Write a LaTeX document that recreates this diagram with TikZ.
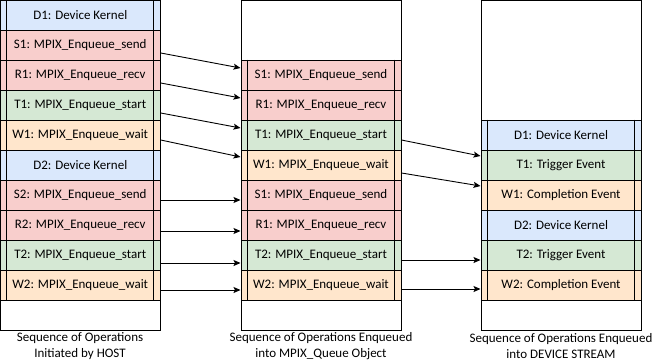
\documentclass[tikz,border=0pt]{standalone}
\usepackage{fontspec}
\setmainfont{Carlito}
\usetikzlibrary{arrows.meta,calc}
\definecolor{cblue}{HTML}{DAE8FC}
\definecolor{cred}{HTML}{F8CECC}
\definecolor{cgreen}{HTML}{D5E8D4}
\definecolor{corange}{HTML}{FFE6CC}
\tikzset{
  box/.style={draw=black,line width=1pt,fill=white},
  proc/.style={draw=black,line width=1pt,minimum width=160pt,minimum height=30pt,inner sep=0pt,
    font=\fontsize{13pt}{15pt}\selectfont,
    append after command={
      ([xshift=7pt]\tikzlastnode.north west) edge[line width=1pt] ([xshift=7pt]\tikzlastnode.south west)
      ([xshift=-7pt]\tikzlastnode.north east) edge[line width=1pt] ([xshift=-7pt]\tikzlastnode.south east)}},
  pb/.style={proc,fill=cblue},
  pr/.style={proc,fill=cred},
  pg/.style={proc,fill=cgreen},
  po/.style={proc,fill=corange},
  lab/.style={align=center,font=\fontsize{13pt}{15.5pt}\selectfont,inner sep=0pt},
  arr/.style={-{Stealth[length=7pt,width=6pt,inset=1.5pt]},line width=0.9pt},
}
\begin{document}
\begin{tikzpicture}[x=1pt,y=-1pt]
\useasboundingbox (0,0) rectangle (661,362);
% containers
\draw[box] (0.5,0.5) rectangle (160,330);
\draw[box] (241,0.5) rectangle (401,330);
\draw[box] (481,0.5) rectangle (641,330);
% left column
\node[pb] (LD1) at (80.25,15)  {D1: Device Kernel};
\node[pr] (LS1) at (80.25,45)  {S1: MPIX\_Enqueue\_send};
\node[pr] (LR1) at (80.25,75)  {R1: MPIX\_Enqueue\_recv};
\node[pg] (LT1) at (80.25,105) {T1: MPIX\_Enqueue\_start};
\node[po] (LW1) at (80.25,135) {W1: MPIX\_Enqueue\_wait};
\node[pb] (LD2) at (80.25,165) {D2: Device Kernel};
\node[pr] (LS2) at (80.25,195) {S2: MPIX\_Enqueue\_send};
\node[pr] (LR2) at (80.25,225) {R2: MPIX\_Enqueue\_recv};
\node[pg] (LT2) at (80.25,255) {T2: MPIX\_Enqueue\_start};
\node[po] (LW2) at (80.25,285) {W2: MPIX\_Enqueue\_wait};
% middle column
\node[pr] (MS1) at (321,75)  {S1: MPIX\_Enqueue\_send};
\node[pr] (MR1) at (321,105) {R1: MPIX\_Enqueue\_recv};
\node[pg] (MT1) at (321,135) {T1: MPIX\_Enqueue\_start};
\node[po] (MW1) at (321,165) {W1: MPIX\_Enqueue\_wait};
\node[pr] (MS2) at (321,195) {S1: MPIX\_Enqueue\_send};
\node[pr] (MR2) at (321,225) {R1: MPIX\_Enqueue\_recv};
\node[pg] (MT2) at (321,255) {T2: MPIX\_Enqueue\_start};
\node[po] (MW2) at (321,285) {W2: MPIX\_Enqueue\_wait};
% right column
\node[pb] (RD1) at (561,135) {D1: Device Kernel};
\node[pg] (RT1) at (561,165) {T1: Trigger Event};
\node[po] (RW1) at (561,195) {W1: Completion Event};
\node[pb] (RD2) at (561,225) {D2: Device Kernel};
\node[pg] (RT2) at (561,255) {T2: Trigger Event};
\node[po] (RW2) at (561,285) {W2: Completion Event};
% labels
\node[lab] (lab1) at (80,346)  {Sequence of Operations\\Initiated by HOST};
\node[lab] (lab2) at (321,346) {Sequence of Operations Enqueued\\into MPIX\_Queue Object};
\node[lab] (lab3) at (561,346) {Sequence of Operations Enqueued\\into DEVICE STREAM};
% arrows left -> middle
\draw[arr] ([yshift=-8pt]LS1.east) -- ([yshift=7pt]MS1.west);
\draw[arr] ([yshift=-8pt]LR1.east) -- ([yshift=7pt]MR1.west);
\draw[arr] ([yshift=-8pt]LT1.east) -- ([yshift=7pt]MT1.west);
\draw[arr] ([yshift=-5pt]LW1.east) -- ([yshift=8pt]MW1.west);
\draw[arr] ([yshift=-5pt]LS2.east) -- ([yshift=-5pt]MS2.west);
\draw[arr] ([yshift=-6pt]LR2.east) -- ([yshift=-6pt]MR2.west);
\draw[arr] ([yshift=-8pt]LT2.east) -- ([yshift=-8pt]MT2.west);
\draw[arr] ([yshift=-5pt]LW2.east) -- ([yshift=-5pt]MW2.west);
% arrows middle -> right
\draw[arr] ([yshift=-5pt]MT1.east) -- ([yshift=9pt]RT1.west);
\draw[arr] ([yshift=-8pt]MW1.east) -- ([yshift=9pt]RW1.west);
\draw[arr] ([yshift=-5pt]MT2.east) -- ([yshift=-5pt]RT2.west);
\draw[arr] ([yshift=-4pt]MW2.east) -- ([yshift=-4pt]RW2.west);
\end{tikzpicture}
\end{document}
